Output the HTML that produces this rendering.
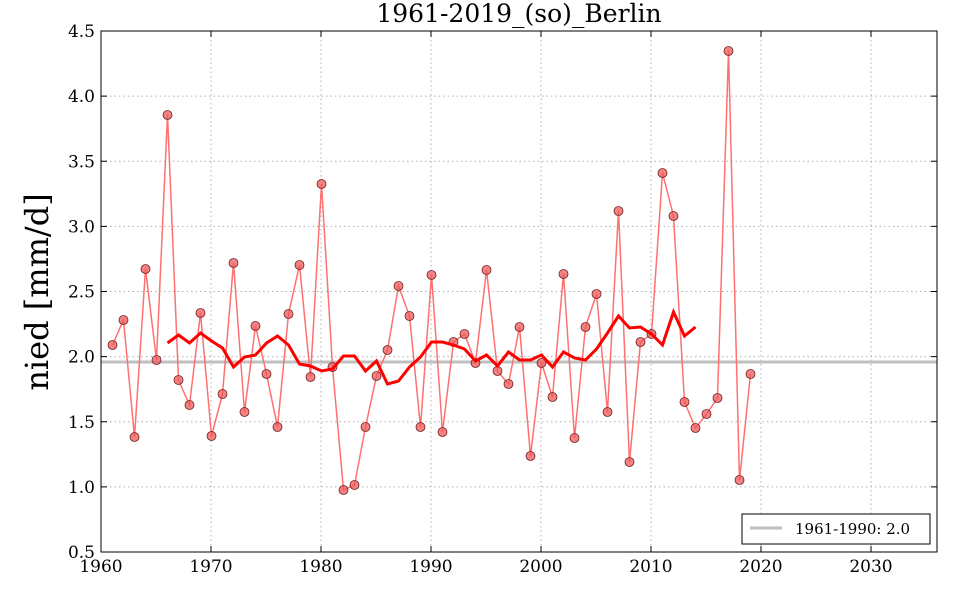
<!DOCTYPE html>
<html><head><meta charset="utf-8"><style>
html,body{margin:0;padding:0;background:#fff;width:960px;height:600px;overflow:hidden}
text{font-family:"DejaVu Serif","Liberation Serif",serif}
</style></head><body>
<svg id="s" width="960" height="600" xmlns="http://www.w3.org/2000/svg">
<rect x="0" y="0" width="960" height="600" fill="#fff"/>
<g id="grid" stroke="#b0b0b0" stroke-dasharray="1.5,3" stroke-width="1"></g>
<line x1="101" y1="362" x2="937" y2="362" stroke="#bfbfbf" stroke-width="3"/>
<polyline id="raw" fill="none" stroke="#ff7070" stroke-width="1.5"/>
<g id="pts"></g>
<polyline id="ma" fill="none" stroke="#ff0000" stroke-width="3"/>
<rect x="101" y="31" width="836" height="521" fill="none" stroke="#000" stroke-width="1"/>
<g id="ticks" stroke="#000"></g>
<g id="labels" font-size="17" fill="#000"></g>
<text x="519" y="22" font-size="25" text-anchor="middle">1961-2019_(so)_Berlin</text>
<text transform="translate(48,292) rotate(-90)" font-size="32" text-anchor="middle">nied [mm/d]</text>
<rect x="742" y="514" width="188" height="30" fill="#fff" stroke="#000" stroke-width="1"/>
<line x1="750" y1="528" x2="782" y2="528" stroke="#bfbfbf" stroke-width="3"/>
<text x="795" y="534" font-size="15">1961-1990: 2.0</text>
</svg>
<script>
var ns="http://www.w3.org/2000/svg";
function el(p,t,a,txt){var e=document.createElementNS(ns,t);for(var k in a)e.setAttribute(k,a[k]);if(txt)e.textContent=txt;document.getElementById(p).appendChild(e);}
function X(yr){return 101+(yr-1960)*11;}
function Y(v){return 552-(v-0.5)*130.25;}
for(var yr=1960;yr<=2030;yr+=10){var x=X(yr);
 el('grid','line',{x1:x,y1:31,x2:x,y2:552});
 el('ticks','line',{x1:x,y1:552,x2:x,y2:546});el('ticks','line',{x1:x,y1:31,x2:x,y2:37});
 el('labels','text',{x:x,y:572,'text-anchor':'middle'},String(yr));}
for(var i=0;i<=8;i++){var v=0.5+i*0.5,y=Y(v);
 el('grid','line',{x1:101,y1:y,x2:937,y2:y});
 el('ticks','line',{x1:101,y1:y,x2:107,y2:y});el('ticks','line',{x1:937,y1:y,x2:931,y2:y});
 el('labels','text',{x:95,y:y+6,'text-anchor':'end'},v.toFixed(1));}
var raw=[345,320,437,269,360,115,380,405,313,436,394,263,412,326,374,427,314,265,377,184,367,490,485,427,376,350,286,316,427,275,432,342,334,363,270,371,384,327,456,363,397,274,438,327,294,412,211,462,342,334,173,216,402,428,414,398,51,480,374];
var p=[];for(var i=0;i<raw.length;i++){var x=X(1961+i)+0.5;p.push(x+","+raw[i]);el('pts','circle',{cx:x,cy:raw[i],r:4.5,fill:'#f05858','fill-opacity':0.75,stroke:'#702020','stroke-width':0.8});}
document.getElementById('raw').setAttribute('points',p.join(' '));
var ma=[343,335,343,333,341,348,367,357,355,343,336,345,364,366,371,369,356,356,371,361,384,381,367,357,342,342,345,349,361,355,366,352,360,360,355,367,352,358,360,349,333,316,328,327,334,345,312,336,327];
var q=[];for(var i=0;i<ma.length;i++)q.push((X(1966+i)+0.5)+","+ma[i]);
document.getElementById('ma').setAttribute('points',q.join(' '));
</script>
</body></html>
